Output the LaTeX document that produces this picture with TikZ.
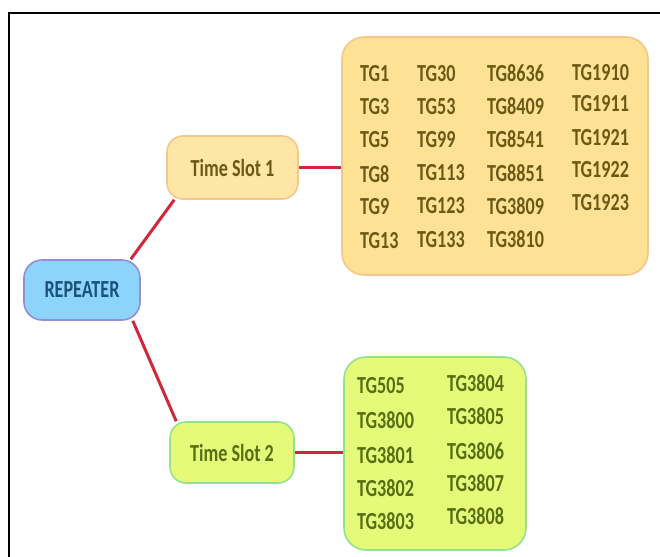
\documentclass[tikz,border=0pt]{standalone}
\usepackage{fontspec}
\setmainfont{Carlito}[FakeStretch=0.74]
\usetikzlibrary{backgrounds}
\definecolor{redline}{RGB}{208,40,58}
\definecolor{yelfill}{RGB}{253,226,150}
\definecolor{yelborder}{RGB}{246,198,142}
\definecolor{yeltext}{RGB}{107,90,22}
\definecolor{grnfill}{RGB}{230,250,122}
\definecolor{grnborder}{RGB}{148,226,142}
\definecolor{grntext}{RGB}{88,110,16}
\definecolor{bluefill}{RGB}{140,212,250}
\definecolor{blueborder}{RGB}{150,140,215}
\definecolor{bluetext}{RGB}{28,82,122}
\tikzset{
  box/.style={draw, line width=1.6pt, rounded corners=16pt, inner sep=0pt, font=\fontsize{24.5}{28}\selectfont\bfseries},
  yel/.style={box, fill=yelfill, draw=yelborder, text=yeltext},
  grn/.style={box, fill=grnfill, draw=grnborder, text=grntext},
  blu/.style={box, fill=bluefill, draw=blueborder, text=bluetext},
  tg/.style={anchor=west, inner sep=0pt, font=\fontsize{24.5}{28}\selectfont\bfseries},
  tgy/.style={tg, text=yeltext},
  tgg/.style={tg, text=grntext},
  link/.style={draw=redline, line width=3pt},
}
\begin{document}
\begin{tikzpicture}[x=1pt, y=-1pt]
\useasboundingbox (0,0) rectangle (660,556);
\draw[line width=2.6pt, line cap=rect] (9,556) -- (9,13) -- (660,13);
% main nodes
\node[blu, minimum width=116pt, minimum height=60pt, rounded corners=18pt] (rep) at (82,290) {REPEATER};
\node[yel, minimum width=131pt, minimum height=63pt, fill=yelfill!85!white] (ts1) at (232.5,167.5) {Time Slot 1};
\node[grn, minimum width=124pt, minimum height=61pt] (ts2) at (232,452.5) {Time Slot 2};
\node[yel, minimum width=306pt, minimum height=238pt, rounded corners=22pt] (b1) at (495,156) {};
\node[grn, minimum width=182pt, minimum height=193pt, rounded corners=22pt] (b2) at (435,453.5) {};
% connectors
\begin{scope}[on background layer]
\draw[link] ([xshift=-10pt]rep.north east) -- ([xshift=8pt]ts1.south west);
\draw[link] ([xshift=-8pt]rep.south east) -- ([xshift=7pt]ts2.north west);
\draw[link] (ts1.east) -- (ts1.east -| b1.west);
\draw[link] (ts2.east) -- (ts2.east -| b2.west);
\end{scope}
% box 1 texts
\node[tgy] (a1) at (360,74) {TG1};
\node[tgy] (a2) at (360,107) {TG3};
\node[tgy] (a3) at (360,140) {TG5};
\node[tgy] (a4) at (360,174) {TG8};
\node[tgy] (a5) at (360,207) {TG9};
\node[tgy] (a6) at (360,241) {TG13};
\node[tgy] (b1t1) at (417,74) {TG30};
\node[tgy] (b1t2) at (417,107) {TG53};
\node[tgy] (b1t3) at (417,140) {TG99};
\node[tgy] (b1t4) at (417,173) {TG113};
\node[tgy] (b1t5) at (417,206) {TG123};
\node[tgy] (b1t6) at (417,240) {TG133};
\node[tgy] (c1) at (487,73) {TG8636};
\node[tgy] (c2) at (487,106) {TG8409};
\node[tgy] (c3) at (487,139) {TG8541};
\node[tgy] (c4) at (487,173) {TG8851};
\node[tgy] (c5) at (487,206) {TG3809};
\node[tgy] (c6) at (487,239) {TG3810};
\node[tgy] (d1) at (572,73) {TG1910};
\node[tgy] (d2) at (572,104) {TG1911};
\node[tgy] (d3) at (572,138) {TG1921};
\node[tgy] (d4) at (572,170) {TG1922};
\node[tgy] (d5) at (572,203) {TG1923};
% box 2 texts
\node[tgg] (e1) at (357,386) {TG505};
\node[tgg] (e2) at (357,420) {TG3800};
\node[tgg] (e3) at (357,455) {TG3801};
\node[tgg] (e4) at (357,488) {TG3802};
\node[tgg] (e5) at (357,521) {TG3803};
\node[tgg] (f1) at (447,383) {TG3804};
\node[tgg] (f2) at (447,416) {TG3805};
\node[tgg] (f3) at (447,451) {TG3806};
\node[tgg] (f4) at (447,483) {TG3807};
\node[tgg] (f5) at (447,516) {TG3808};
\end{tikzpicture}
\end{document}
